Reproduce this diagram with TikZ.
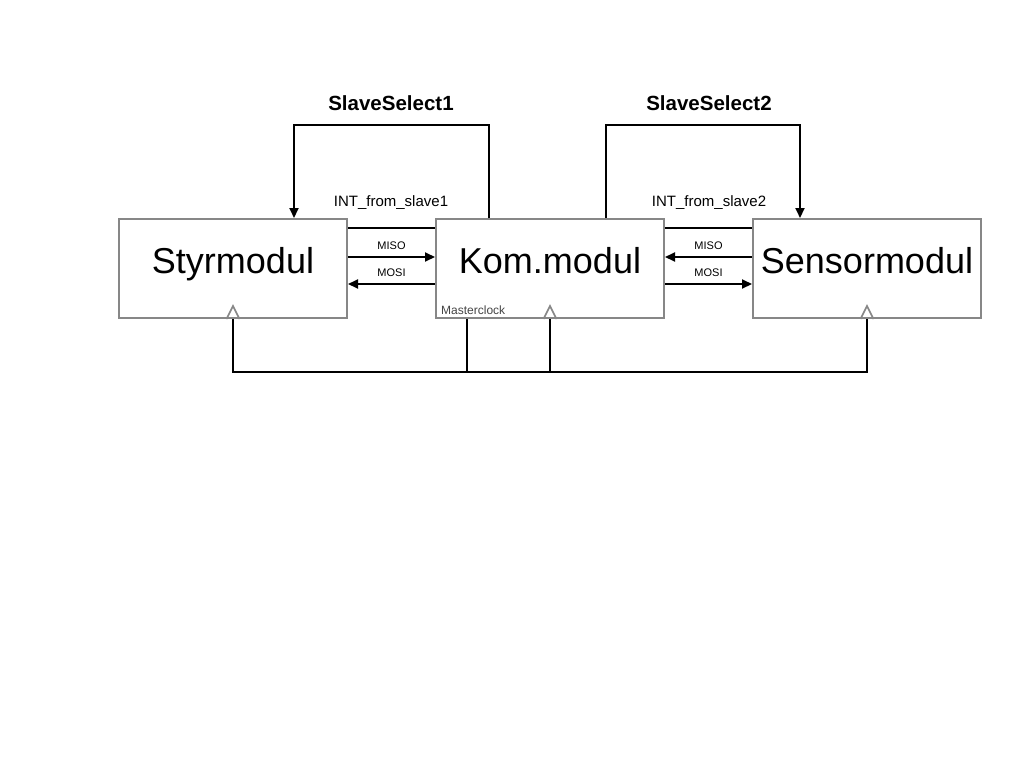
\documentclass[tikz,border=0pt]{standalone}
\usepackage{fontspec}
\setmainfont{Liberation Sans}
\usetikzlibrary{calc,arrows.meta}
\tikzset{>={Triangle[length=10pt,width=9pt]}}
\definecolor{boxgray}{HTML}{878787}
\definecolor{clkgray}{HTML}{444444}

\begin{document}
\begin{tikzpicture}[x=1pt,y=-1pt,
  modbox/.style={draw=boxgray,line width=2pt,minimum width=228pt,minimum height=99pt,inner sep=0pt},
  modname/.style={font=\fontsize{36}{40}\selectfont,anchor=base,inner sep=0pt},
  sigline/.style={line width=2pt},
  siglabel/.style={font=\fontsize{11}{13}\selectfont,above=3pt},
  intlabel/.style={font=\fontsize{15}{18}\selectfont},
  sslabel/.style={font=\bfseries\fontsize{20.5}{24}\selectfont},
  clktri/.style={draw=boxgray,line width=1.6pt}]
\useasboundingbox (0,0) rectangle (1024,768);
\node[modbox] (styr) at (233,268.5) {};
\node[modbox] (kom) at (550,268.5) {};
\node[modbox] (sensor) at (867,268.5) {};
\node[modname] (styrname) at (233,273) {Styrmodul};
\node[modname] (komname) at (550,273) {Kom.modul};
\node[modname] (sensorname) at (867,273) {Sensormodul};
% left bus
\draw[sigline] ($(styr.north east)+(0,10)$) -- ($(kom.north west)+(0,10)$);
\draw[sigline,->] ($(styr.east)+(0,-11.5)$) -- node[siglabel] (miso1) {MISO} ($(kom.west)+(0,-11.5)$);
\draw[sigline,<-] ($(styr.east)+(0,15.5)$) -- node[siglabel] (mosi1) {MOSI} ($(kom.west)+(0,15.5)$);
% right bus
\draw[sigline] ($(kom.north east)+(0,10)$) -- ($(sensor.north west)+(0,10)$);
\draw[sigline,<-] ($(kom.east)+(0,-11.5)$) -- node[siglabel] (miso2) {MISO} ($(sensor.west)+(0,-11.5)$);
\draw[sigline,->] ($(kom.east)+(0,15.5)$) -- node[siglabel] (mosi2) {MOSI} ($(sensor.west)+(0,15.5)$);
\node[intlabel] (int1) at (391,202.5) {INT\_from\_slave1};
\node[intlabel] (int2) at (709,202.5) {INT\_from\_slave2};
% slave select
\draw[sigline,->] ($(kom.north)+(-61,0)$) -- ++(0,-93) -| ($(styr.north)+(61,0)$);
\draw[sigline,->] ($(kom.north)+(56,0)$) -- ++(0,-93) -| ($(sensor.north)+(-67,0)$);
\node[sslabel] (ss1) at (391,103) {SlaveSelect1};
\node[sslabel] (ss2) at (709,103) {SlaveSelect2};
% clock
\draw[sigline] (styr.south) -- ++(0,53) -| (sensor.south);
\draw[sigline] ($(kom.south)+(-83,0)$) -- ++(0,53);
\draw[sigline] (kom.south) -- ++(0,53);
\draw[clktri] ($(styr.south)+(-6.5,0)$) -- ++(6.5,-13) -- ++(6.5,13);
\draw[clktri] ($(kom.south)+(-6.5,0)$) -- ++(6.5,-13) -- ++(6.5,13);
\draw[clktri] ($(sensor.south)+(-6.5,0)$) -- ++(6.5,-13) -- ++(6.5,13);
\node[font=\fontsize{12}{14}\selectfont,text=clkgray,anchor=base west,inner sep=0pt] (mclk) at (441,314) {Masterclock};
\end{tikzpicture}
\end{document}
